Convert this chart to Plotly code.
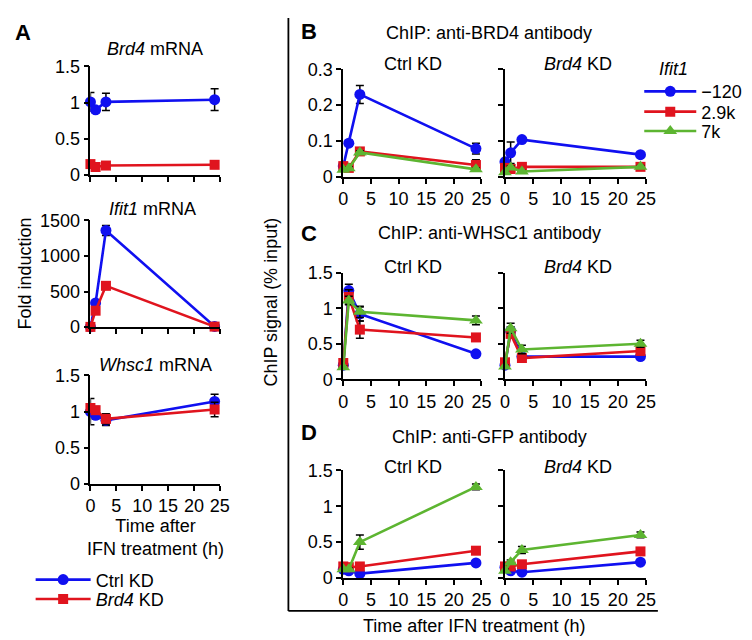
import plotly.graph_objects as go

# ---------------- data ----------------
time_h = [0, 1, 3, 24]

# Panel A (fold induction)
brd4_ctrl = [1.01, 0.90, 1.01, 1.04]
brd4_ctrl_err = [0.13, 0.04, 0.12, 0.15]
brd4_kd = [0.15, 0.11, 0.13, 0.14]
brd4_kd_err = [0.02, 0.03, 0.02, 0.02]

ifit1_ctrl = [3, 340, 1360, 8]
ifit1_ctrl_err = [2, 30, 70, 5]
ifit1_kd = [2, 230, 580, 6]
ifit1_kd_err = [1, 20, 25, 3]

whsc1_ctrl = [1.00, 0.95, 0.88, 1.14]
whsc1_ctrl_err = [0.18, 0.05, 0.07, 0.10]
whsc1_kd = [1.05, 1.02, 0.90, 1.03]
whsc1_kd_err = [0.05, 0.05, 0.07, 0.10]

# Panel B: anti-BRD4 ChIP (% input)
brd4chip_ctrl_m120 = [0.030, 0.094, 0.230, 0.079]
brd4chip_ctrl_m120_err = [0.005, 0.008, 0.025, 0.015]
brd4chip_ctrl_k29 = [0.030, 0.025, 0.071, 0.033]
brd4chip_ctrl_k29_err = [0.005, 0.005, 0.006, 0.015]
brd4chip_ctrl_k7 = [0.020, 0.024, 0.068, 0.021]
brd4chip_ctrl_k7_err = [0.004, 0.004, 0.005, 0.004]
brd4chip_kd_m120 = [0.042, 0.067, 0.104, 0.062]
brd4chip_kd_m120_err = [0.010, 0.030, 0.005, 0.005]
brd4chip_kd_k29 = [0.025, 0.022, 0.028, 0.028]
brd4chip_kd_k29_err = [0.004, 0.004, 0.004, 0.004]
brd4chip_kd_k7 = [0.013, 0.026, 0.015, 0.028]
brd4chip_kd_k7_err = [0.003, 0.004, 0.003, 0.004]

# Panel C: anti-WHSC1 ChIP
whscchip_ctrl_m120 = [0.20, 1.25, 0.92, 0.36]
whscchip_ctrl_m120_err = [0.02, 0.09, 0.10, 0.02]
whscchip_ctrl_k29 = [0.23, 1.16, 0.70, 0.59]
whscchip_ctrl_k29_err = [0.02, 0.10, 0.12, 0.04]
whscchip_ctrl_k7 = [0.17, 1.11, 0.95, 0.83]
whscchip_ctrl_k7_err = [0.02, 0.06, 0.08, 0.06]
whscchip_kd_m120 = [0.20, 0.68, 0.32, 0.32]
whscchip_kd_m120_err = [0.02, 0.06, 0.04, 0.03]
whscchip_kd_k29 = [0.24, 0.64, 0.30, 0.40]
whscchip_kd_k29_err = [0.02, 0.05, 0.04, 0.05]
whscchip_kd_k7 = [0.18, 0.72, 0.42, 0.50]
whscchip_kd_k7_err = [0.02, 0.07, 0.06, 0.05]

# Panel D: anti-GFP ChIP
gfpchip_ctrl_m120 = [0.12, 0.10, 0.06, 0.21]
gfpchip_ctrl_m120_err = [0.02, 0.02, 0.02, 0.02]
gfpchip_ctrl_k29 = [0.16, 0.15, 0.16, 0.38]
gfpchip_ctrl_k29_err = [0.02, 0.02, 0.02, 0.03]
gfpchip_ctrl_k7 = [0.12, 0.12, 0.50, 1.27]
gfpchip_ctrl_k7_err = [0.02, 0.02, 0.10, 0.04]
gfpchip_kd_m120 = [0.15, 0.10, 0.08, 0.22]
gfpchip_kd_m120_err = [0.02, 0.02, 0.02, 0.02]
gfpchip_kd_k29 = [0.16, 0.16, 0.19, 0.37]
gfpchip_kd_k29_err = [0.02, 0.02, 0.02, 0.03]
gfpchip_kd_k7 = [0.10, 0.22, 0.39, 0.60]
gfpchip_kd_k7_err = [0.02, 0.03, 0.05, 0.04]

x_ticks = [0, 5, 10, 15, 20, 25]
x_ticktext = ["0", "5", "10", "15", "20", "25"]
y_ticks_15 = [0, 0.5, 1, 1.5]
y_ticktext_15 = ["0", "0.5", "1", "1.5"]
y_ticks_ifit = [0, 500, 1000, 1500]
y_ticktext_ifit = ["0", "500", "1000", "1500"]
y_ticks_03 = [0, 0.1, 0.2, 0.3]
y_ticktext_03 = ["0", "0.1", "0.2", "0.3"]

kd_names = ["Ctrl KD", "<i>Brd4</i> KD"]
site_names = ["\u2212120", "2.9k", "7k"]

# ---------------- style ----------------
W, H = 752, 640
FONT = "Liberation Sans, Arial, Helvetica, sans-serif"
FS = 18
BLUE = "#1010F0"
RED = "#E0141E"
GREEN = "#5DB531"
LW = 1.8


def X(px):
    return px / W


def Y(py):
    return 1 - py / H


fig = go.Figure()

# (x_px0, x_px1, y_px_top, y_px_bottom, yrange, yticks, yticktext, show_xlabels, show_ylabels)
axes_spec = [
    (79, 211, 50, 162, [0, 1.5], y_ticks_15, y_ticktext_15, False, True),      # A Brd4
    (79, 211, 209, 319, [0, 1500], y_ticks_ifit, y_ticktext_ifit, False, True),  # A Ifit1
    (79, 211, 369, 481, [0, 1.5], y_ticks_15, y_ticktext_15, True, True),       # A Whsc1
    (337, 478, 53, 164, [0, 0.3], y_ticks_03, y_ticktext_03, True, True),        # B ctrl
    (502, 646, 53, 164, [0, 0.3], y_ticks_03, y_ticktext_03, True, False),       # B kd
    (337, 478, 263, 373, [0, 1.5], y_ticks_15, y_ticktext_15, True, True),       # C ctrl
    (502, 646, 263, 373, [0, 1.5], y_ticks_15, y_ticktext_15, True, False),      # C kd
    (337, 478, 467, 578, [0, 1.5], y_ticks_15, y_ticktext_15, True, True),       # D ctrl
    (502, 646, 467, 578, [0, 1.5], y_ticks_15, y_ticktext_15, True, False),      # D kd
]

layout_axes = {}
for i, (x0, x1, yt, yb, yr, yt_vals, yt_text, sxl, syl) in enumerate(axes_spec, start=1):
    sfx = "" if i == 1 else str(i)
    common = dict(showline=True, linecolor="black", linewidth=LW, ticks="outside",
                  ticklen=5, tickwidth=LW, tickcolor="black", showgrid=False,
                  zeroline=False, fixedrange=True,
                  tickfont=dict(family=FONT, size=FS, color="black"))
    layout_axes["xaxis" + sfx] = dict(common, domain=[X(x0), X(x1)], range=[0, 25],
                                      tickvals=x_ticks, ticktext=x_ticktext,
                                      showticklabels=sxl, tickangle=0,
                                      anchor="y" + sfx)
    layout_axes["yaxis" + sfx] = dict(common, domain=[Y(yb), Y(yt)], range=yr,
                                      tickvals=yt_vals, ticktext=yt_text,
                                      showticklabels=syl, anchor="x" + sfx)


def add(i, y, err, color, symbol, size, name, legend=None):
    sfx = "" if i == 1 else str(i)
    fig.add_trace(go.Scatter(
        x=time_h, y=y, mode="lines+markers", name=name,
        xaxis="x" + sfx, yaxis="y" + sfx,
        line=dict(color=color, width=2.6),
        marker=dict(color=color, symbol=symbol, size=size, line=dict(width=0)),
        error_y=dict(type="data", array=err, color="black", thickness=1.5, width=4),
        cliponaxis=False,
        showlegend=legend is not None,
        legend=legend if legend else "legend",
    ))


# Panel A
add(1, brd4_ctrl, brd4_ctrl_err, BLUE, "circle", 11, kd_names[0], "legend")
add(1, brd4_kd, brd4_kd_err, RED, "square", 10, kd_names[1], "legend2")
add(2, ifit1_ctrl, ifit1_ctrl_err, BLUE, "circle", 11, kd_names[0])
add(2, ifit1_kd, ifit1_kd_err, RED, "square", 10, kd_names[1])
add(3, whsc1_ctrl, whsc1_ctrl_err, BLUE, "circle", 11, kd_names[0])
add(3, whsc1_kd, whsc1_kd_err, RED, "square", 10, kd_names[1])

# Panels B-D
chip_sets = [
    (4, [brd4chip_ctrl_m120, brd4chip_ctrl_k29, brd4chip_ctrl_k7],
        [brd4chip_ctrl_m120_err, brd4chip_ctrl_k29_err, brd4chip_ctrl_k7_err], True),
    (5, [brd4chip_kd_m120, brd4chip_kd_k29, brd4chip_kd_k7],
        [brd4chip_kd_m120_err, brd4chip_kd_k29_err, brd4chip_kd_k7_err], False),
    (6, [whscchip_ctrl_m120, whscchip_ctrl_k29, whscchip_ctrl_k7],
        [whscchip_ctrl_m120_err, whscchip_ctrl_k29_err, whscchip_ctrl_k7_err], False),
    (7, [whscchip_kd_m120, whscchip_kd_k29, whscchip_kd_k7],
        [whscchip_kd_m120_err, whscchip_kd_k29_err, whscchip_kd_k7_err], False),
    (8, [gfpchip_ctrl_m120, gfpchip_ctrl_k29, gfpchip_ctrl_k7],
        [gfpchip_ctrl_m120_err, gfpchip_ctrl_k29_err, gfpchip_ctrl_k7_err], False),
    (9, [gfpchip_kd_m120, gfpchip_kd_k29, gfpchip_kd_k7],
        [gfpchip_kd_m120_err, gfpchip_kd_k29_err, gfpchip_kd_k7_err], False),
]
styles = [(BLUE, "circle", 11), (RED, "square", 10), (GREEN, "triangle-up", 12)]
site_legends = ["legend3", "legend4", "legend5"]
for i, ys, errs, leg in chip_sets:
    for (col, sym, sz), y, e, nm, lg in zip(styles, ys, errs, site_names, site_legends):
        add(i, y, e, col, sym, sz, nm, lg if leg else None)

# ---------------- annotations ----------------
ann = []


def text(px, py, s, size=FS, bold=False, angle=0, xanchor="center"):
    if bold:
        s = "<b>" + s + "</b>"
    ann.append(dict(x=X(px), y=Y(py), xref="paper", yref="paper", text=s,
                    showarrow=False, xanchor=xanchor, yanchor="middle",
                    textangle=angle, font=dict(family=FONT, size=size, color="black")))


text(10, 15, "A", size=22, bold=True)
text(145, 32, "<i>Brd4</i> mRNA")
text(142, 197, "<i>Ifit1</i> mRNA")
text(145, 358, "<i>Whsc1</i> mRNA")
text(12, 264, "Fold induction", angle=-90)
text(145, 536, "Time after<br>IFN treatment (h)")

text(302, 14, "B", size=22, bold=True)
text(486, 15, "ChIP: anti-BRD4 antibody")
text(302, 222, "C", size=22, bold=True)
text(486, 222, "ChIP: anti-WHSC1 antibody")
text(302, 428, "D", size=22, bold=True)
text(486, 432, "ChIP: anti-GFP antibody")
for yy in (48, 257, 463):
    text(408, yy, "Ctrl KD")
    text(576, yy, "<i>Brd4</i> KD")
text(263, 293, "ChIP signal (% input)", angle=-90)
text(470, 628, "Time after IFN treatment (h)")
text(657, 53, "<i>Ifit1</i>", xanchor="left")

shapes = [
    dict(type="line", xref="paper", yref="paper", x0=X(281), x1=X(281), y0=Y(0), y1=Y(612),
         line=dict(color="black", width=LW)),
    dict(type="line", xref="paper", yref="paper", x0=X(281), x1=X(658), y0=Y(612), y1=Y(612),
         line=dict(color="black", width=LW)),
]


def legend_at(px, py, iw=55):
    return dict(x=X(px), y=Y(py), xanchor="left", yanchor="middle",
                font=dict(family=FONT, size=FS, color="black"), itemwidth=iw,
                bgcolor="rgba(0,0,0,0)", borderwidth=0)


fig.update_layout(
    width=W, height=H, margin=dict(l=0, r=0, t=0, b=0),
    paper_bgcolor="white", plot_bgcolor="white",
    font=dict(family=FONT, size=FS, color="black"),
    annotations=ann, shapes=shapes,
    legend=legend_at(18, 580),
    legend2=legend_at(18, 600),
    legend3=legend_at(639, 76, 52),
    legend4=legend_at(639, 97, 52),
    legend5=legend_at(639, 117, 52),
    **layout_axes,
)

fig.write_html("out.html")
